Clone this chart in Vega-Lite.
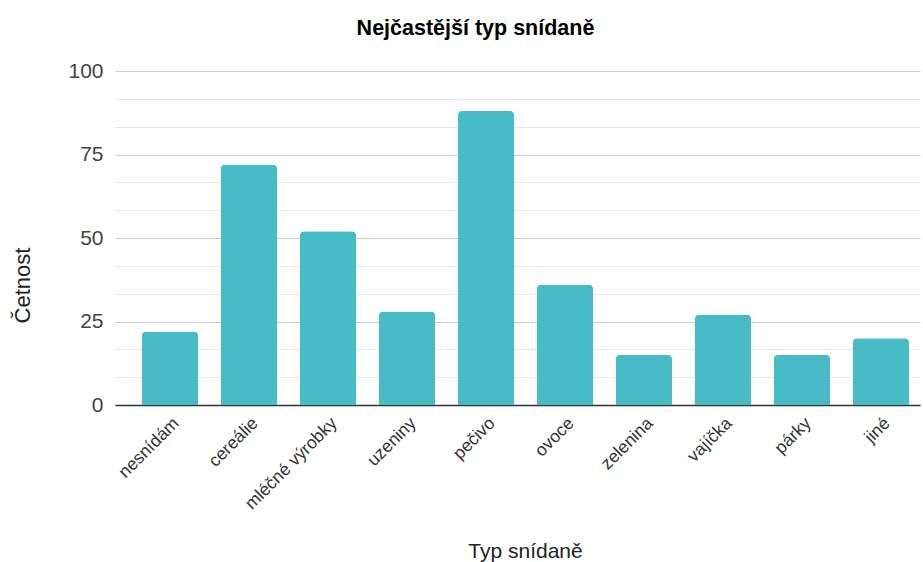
{
  "$schema": "https://vega.github.io/schema/vega-lite/v6.json",
  "autosize": "none",
  "width": 805,
  "height": 334,
  "padding": {"left": 115, "top": 71, "right": 3, "bottom": 157},
  "background": "white",
  "config": {"font": "Liberation Sans", "view": {"stroke": null}},
  "title": {"text": "Nejčastější typ snídaně", "fontSize": 21.5, "fontWeight": "bold", "color": "#000", "anchor": "middle", "dx": -42, "offset": 21},
  "data": {"values": [
    {"typ": "nesnídám", "n": 22},
    {"typ": "cereálie", "n": 72},
    {"typ": "mléčné výrobky", "n": 52},
    {"typ": "uzeniny", "n": 28},
    {"typ": "pečivo", "n": 88},
    {"typ": "ovoce", "n": 36},
    {"typ": "zelenina", "n": 15},
    {"typ": "vajíčka", "n": 27},
    {"typ": "párky", "n": 15},
    {"typ": "jiné", "n": 20}
  ]},
  "mark": {"type": "bar", "color": "#47BCC6", "cornerRadiusTopLeft": 4, "cornerRadiusTopRight": 4},
  "encoding": {
    "x": {"field": "typ", "type": "nominal", "sort": null,
      "scale": {"paddingInner": 0.29, "paddingOuter": 0.24, "align": 0.71},
      "axis": {"title": "Typ snídaně", "titleFontSize": 21, "titleFontWeight": "normal", "titleColor": "#222", "titleX": 410, "titleY": 146, "titleBaseline": "middle",
        "labelAngle": -45, "labelFontSize": 17.5, "labelColor": "#333", "labelPadding": 9, "ticks": false,
        "domainColor": "#333", "domainWidth": 1.5, "grid": false}},
    "y": {"field": "n", "type": "quantitative",
      "scale": {"domain": [0, 100], "nice": false},
      "axis": {"title": "Četnost", "titleFontSize": 22, "titleFontWeight": "normal", "titleColor": "#222", "titleX": -93, "titleY": 214, "titleBaseline": "middle", "titleAngle": -90,
        "values": [0, 8.3333, 16.6667, 25, 33.3333, 41.6667, 50, 58.3333, 66.6667, 75, 83.3333, 91.6667, 100],
        "labelExpr": "datum.value % 25 == 0 ? datum.label : ''",
        "labelFontSize": 21, "labelColor": "#444", "labelPadding": 12,
        "ticks": false, "domain": false,
        "gridColor": {"condition": {"test": "datum.value % 25 == 0", "value": "#cccccc"}, "value": "#e8e8e8"}}}
  }
}
